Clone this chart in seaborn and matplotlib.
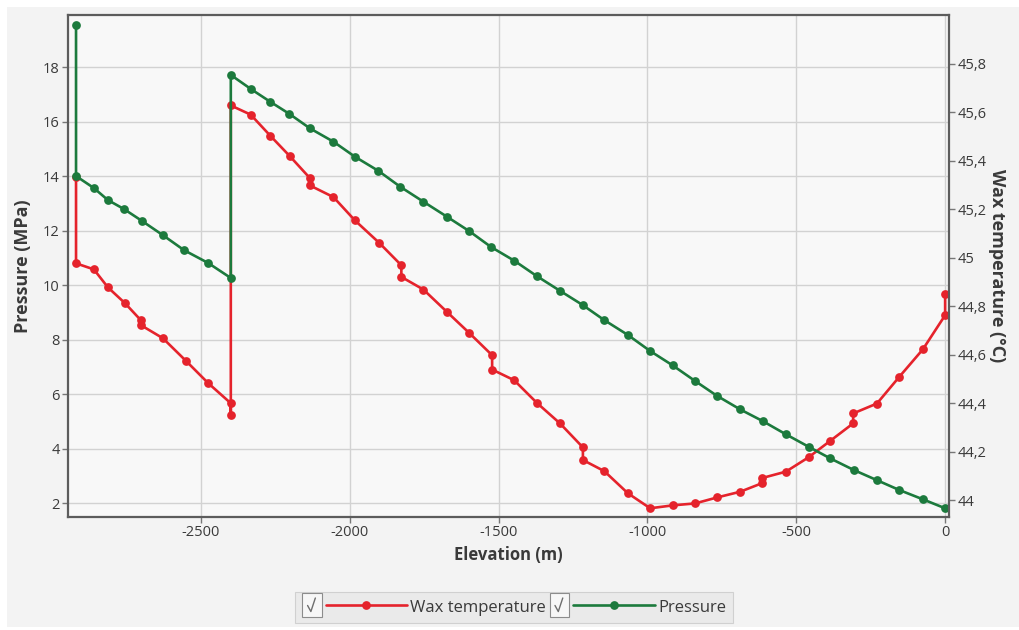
import matplotlib
matplotlib.use("Agg")
import matplotlib.pyplot as plt
import seaborn as sns
from matplotlib.legend_handler import HandlerLine2D
from matplotlib.lines import Line2D
from matplotlib.patches import Rectangle
from matplotlib.ticker import FixedLocator, FixedFormatter

# Pressure profile along the well (elevation in m, pressure in MPa)
elev_p = [-2920, -2920, -2860, -2813, -2759, -2698, -2628, -2557, -2476, -2400,
          -2400, -2332, -2268, -2203, -2134, -2055, -1983, -1904, -1831, -1753,
          -1674, -1599, -1526, -1447, -1372, -1294, -1218, -1146, -1066, -991,
          -915, -840, -767, -689, -613, -536, -459, -386, -306, -229,
          -154, -75, 0]
pressure = [19.54, 14.00, 13.56, 13.12, 12.79, 12.35, 11.83, 11.28, 10.81, 10.26,
            17.71, 17.19, 16.73, 16.28, 15.75, 15.26, 14.71, 14.19, 13.61, 13.06,
            12.51, 11.98, 11.40, 10.89, 10.33, 9.79, 9.27, 8.72, 8.17, 7.58,
            7.05, 6.48, 5.94, 5.44, 5.01, 4.53, 4.07, 3.64, 3.21, 2.84,
            2.48, 2.14, 1.81]

# Wax appearance temperature profile (elevation in m, temperature in °C)
elev_t = [-2920, -2920, -2860, -2813, -2755, -2702, -2702, -2628, -2550, -2476,
          -2400, -2400, -2400, -2333, -2268, -2201, -2134, -2134, -2055, -1983,
          -1901, -1827, -1827, -1753, -1674, -1599, -1522, -1522, -1448, -1372,
          -1294, -1217, -1217, -1145, -1066, -991, -915, -840, -765, -689,
          -614, -614, -535, -459, -386, -309, -309, -229, -154, -75,
          0, 0]
wax_temp = [45.330, 44.976, 44.951, 44.877, 44.811, 44.741, 44.721, 44.667, 44.573, 44.482,
            44.399, 44.350, 45.627, 45.589, 45.503, 45.417, 45.327, 45.297, 45.249, 45.153,
            45.060, 44.968, 44.920, 44.868, 44.776, 44.689, 44.597, 44.538, 44.494, 44.401,
            44.316, 44.217, 44.165, 44.119, 44.028, 43.966, 43.978, 43.986, 44.011, 44.034,
            44.070, 44.091, 44.117, 44.176, 44.244, 44.316, 44.357, 44.398, 44.508, 44.621,
            44.762, 44.851]

elev_ticks = [-2500, -2000, -1500, -1000, -500, 0]
elev_tick_labels = ["-2500", "-2000", "-1500", "-1000", "-500", "0"]
pressure_ticks = [2, 4, 6, 8, 10, 12, 14, 16, 18]
pressure_tick_labels = ["2", "4", "6", "8", "10", "12", "14", "16", "18"]
temp_ticks = [44.0, 44.2, 44.4, 44.6, 44.8, 45.0, 45.2, 45.4, 45.6, 45.8]
temp_tick_labels = ["44", "44,2", "44,4", "44,6", "44,8", "45", "45,2", "45,4", "45,6", "45,8"]

series_names = ["Wax temperature", "Pressure"]
RED = "#e5232c"
GREEN = "#1c7a3d"
TEXT = "#3a3a3a"

sns.set_style("white")
plt.rcParams["font.family"] = ["Open Sans", "DejaVu Sans"]
plt.rcParams["axes.unicode_minus"] = False

fig = plt.figure(figsize=(10.2, 6.3), dpi=100)
fig.patch.set_facecolor("white")
fig.patches.append(Rectangle((7 / 1020, 3 / 630), 1013 / 1020, 620 / 630,
                             transform=fig.transFigure, facecolor="#f3f3f3",
                             edgecolor="none", zorder=-10))

rect = [68 / 1020, 113 / 630, 881 / 1020, 502 / 630]
ax_p = fig.add_axes(rect, zorder=3)                             # pressure (left axis)
ax_bg = fig.add_axes(rect, sharex=ax_p, sharey=ax_p, zorder=1)  # background + grid
ax_t = fig.add_axes(rect, sharex=ax_p, zorder=2)                # temperature (right axis)

# background panel with grid
ax_bg.set_facecolor("#f8f8f8")
ax_bg.grid(True, color="#d2d2d2", linewidth=1.0)
ax_bg.tick_params(left=False, bottom=False, labelleft=False, labelbottom=False)
for s in ax_bg.spines.values():
    s.set_visible(False)

# wax temperature curve on the right-hand axis
sns.lineplot(x=elev_t, y=wax_temp, sort=False, estimator=None, color=RED,
             linewidth=1.9, marker="o", markersize=6.3, markeredgewidth=0,
             ax=ax_t)
line_t = ax_t.lines[-1]
ax_t.patch.set_visible(False)
ax_t.set_ylim(43.93, 46.0)
ax_t.yaxis.tick_right()
ax_t.yaxis.set_label_position("right")
ax_t.xaxis.set_visible(False)
ax_t.yaxis.set_major_locator(FixedLocator(temp_ticks))
ax_t.yaxis.set_major_formatter(FixedFormatter(temp_tick_labels))
for s in ax_t.spines.values():
    s.set_visible(False)
ax_t.tick_params(axis="y", direction="out", length=4, width=1, color="#777777",
                 labelsize=10.5, labelcolor=TEXT, pad=2, right=True, left=False)
ax_t.set_ylabel("Wax temperature (°C)", rotation=270, fontsize=13,
                fontweight="bold", color=TEXT, labelpad=14)

# pressure curve on the left-hand axis
sns.lineplot(x=elev_p, y=pressure, sort=False, estimator=None, color=GREEN,
             linewidth=1.9, marker="o", markersize=6.3, markeredgewidth=0,
             ax=ax_p)
line_p = ax_p.lines[-1]
ax_p.patch.set_visible(False)
ax_p.set_xlim(-2947, 13)
ax_p.set_ylim(1.49, 19.91)
ax_p.xaxis.set_major_locator(FixedLocator(elev_ticks))
ax_p.xaxis.set_major_formatter(FixedFormatter(elev_tick_labels))
ax_p.yaxis.set_major_locator(FixedLocator(pressure_ticks))
ax_p.yaxis.set_major_formatter(FixedFormatter(pressure_tick_labels))
ax_p.tick_params(axis="both", direction="out", length=4, width=1, color="#777777",
                 labelsize=10.5, labelcolor=TEXT, pad=2, left=True, bottom=True)
for s in ax_p.spines.values():
    s.set_visible(True)
    s.set_color("#5c5c5c")
    s.set_linewidth(1.6)
ax_p.set_xlabel("Elevation (m)", fontsize=12, fontweight="bold", color=TEXT, labelpad=4)
ax_p.set_ylabel("Pressure (MPa)", fontsize=13, fontweight="bold", color=TEXT, labelpad=8)

for a in (ax_p, ax_t):
    if a.get_legend() is not None:
        a.get_legend().remove()


class CheckedLineHandler(HandlerLine2D):
    """Legend entry drawn as a ticked check box followed by the line sample."""

    def __init__(self, box=14.0, gap=3.0, **kw):
        super().__init__(**kw)
        self.box = box
        self.gap = gap

    def create_artists(self, legend, orig_handle, xdescent, ydescent,
                       width, height, fontsize, trans):
        shift = self.box + self.gap
        artists = super().create_artists(legend, orig_handle, xdescent - shift,
                                         ydescent, width - shift, height,
                                         fontsize, trans)
        x0 = -xdescent
        yc = (height - ydescent) / 2
        bw, bh = self.box, self.box * 1.2
        frame = Rectangle((x0, yc - bh / 2), bw, bh, transform=trans,
                          facecolor="#f7f7f7", edgecolor="#8c8c8c", linewidth=0.8)
        tick = Line2D([x0 + 0.28 * bw, x0 + 0.45 * bw, x0 + 0.68 * bw],
                      [yc - 0.02 * bh, yc - 0.28 * bh, yc + 0.30 * bh],
                      transform=trans, color="#6e6e6e", linewidth=1.0)
        return [frame, tick] + artists


handler = CheckedLineHandler()
leg = fig.legend(handles=[line_t, line_p], labels=series_names, ncol=2,
                 loc="center", bbox_to_anchor=(514 / 1020, 1 - 607 / 630),
                 handler_map={line_t: handler, line_p: handler},
                 handlelength=6.3, handleheight=1.1, handletextpad=0.2,
                 columnspacing=0.2, borderpad=0.4, fontsize=12,
                 labelcolor=TEXT, frameon=True, fancybox=False, numpoints=1)
frame = leg.get_frame()
frame.set_facecolor("#eaeaea")
frame.set_edgecolor("#d0d0d0")
frame.set_linewidth(0.8)
frame.set_alpha(1.0)

fig.savefig("out.png", dpi=100, facecolor=fig.get_facecolor())
